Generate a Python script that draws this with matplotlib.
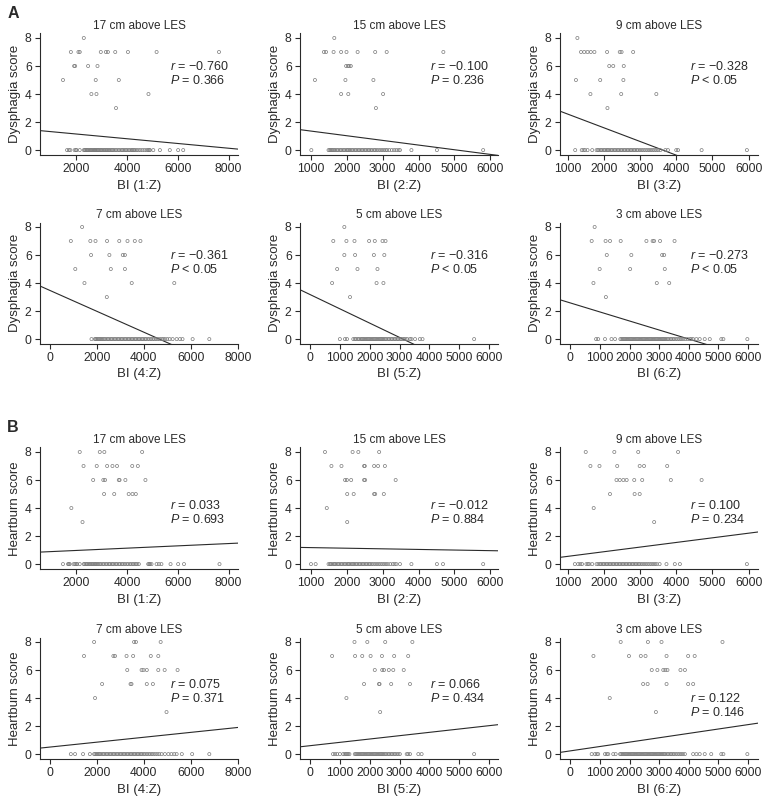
import matplotlib
matplotlib.use("Agg")
import matplotlib.pyplot as plt
import numpy as np

plt.rcParams['font.family'] = ['Liberation Sans', 'DejaVu Sans']
plt.rcParams['mathtext.fontset'] = 'custom'
plt.rcParams['mathtext.it'] = 'Liberation Sans:italic'
plt.rcParams['mathtext.rm'] = 'Liberation Sans'

# ---------------- data ----------------
levels = ["17 cm above LES", "15 cm above LES", "9 cm above LES",
          "7 cm above LES", "5 cm above LES", "3 cm above LES"]
xlabels = ["BI (1:Z)", "BI (2:Z)", "BI (3:Z)", "BI (4:Z)", "BI (5:Z)", "BI (6:Z)"]
ylabels = ["Dysphagia score", "Heartburn score"]
section_labels = ["A", "B"]

# Dysphagia (A) non-zero points
dys17_x = [2290, 1780, 2080, 2130, 2960, 3160, 3240, 3530, 4030, 5160, 7620,
           1910, 1950, 2460, 2830, 1470, 2760, 3670, 2590, 2790, 4840, 3560]
dys17_y = [8, 7, 7, 7, 7, 7, 7, 7, 7, 7, 7, 6, 6, 6, 6, 5, 5, 5, 4, 4, 4, 3]
dys17_zero = [1630, 1700, 1760, 1930, 1990, 2000, 2130, 2290, 2330, 2360, 2400, 2430, 2470,
              2510, 2550, 2580, 2620, 2660, 2700, 2730, 2760, 2800, 2840, 2870, 2910, 2950,
              2990, 3030, 3080, 3120, 3170, 3210, 3260, 3300, 3350, 3400, 3450, 3500, 3560,
              3620, 3680, 3740, 3800, 3850, 3900, 3960, 4010, 4070, 4130, 4180, 4220, 4270,
              4320, 4380, 4450, 4520, 4600, 4680, 4760, 4820, 4870, 4900, 5030, 5290, 5680,
              6010, 6210]

dys15_x = [1650, 1360, 1420, 1630, 1840, 1990, 2300, 2790, 3110, 4690,
           1980, 2030, 2070, 2110, 1110, 1960, 2740, 1840, 2040, 3010, 2810]
dys15_y = [8, 7, 7, 7, 7, 7, 7, 7, 7, 7, 6, 6, 6, 6, 5, 5, 5, 4, 4, 4, 3]
dys15_zero = [1010, 1490, 1520, 1550, 1580, 1610, 1650, 1680, 1720, 1760, 1800, 1840, 1880,
              1920, 1960, 2000, 2030, 2070, 2100, 2140, 2180, 2220, 2260, 2300, 2340, 2380,
              2420, 2460, 2500, 2540, 2580, 2620, 2660, 2700, 2750, 2790, 2830, 2880, 2930,
              2980, 3030, 3080, 3120, 3180, 3250, 3320, 3380, 3440, 3480, 3800, 4510, 5800]

dys9_x = [1270, 1370, 1460, 1550, 1640, 1740, 2090, 2440, 2490, 2810,
          2150, 2260, 2550, 1230, 1900, 2540, 1630, 2480, 3450, 2100]
dys9_y = [8, 7, 7, 7, 7, 7, 7, 7, 7, 7, 6, 6, 6, 5, 5, 5, 4, 4, 4, 3]
dys9_zero = [1210, 1390, 1440, 1480, 1550, 1680, 1800, 1840, 1880, 1920, 1960, 2000, 2040,
             2080, 2110, 2150, 2190, 2230, 2270, 2310, 2350, 2390, 2430, 2470, 2510, 2550,
             2590, 2630, 2670, 2710, 2750, 2790, 2830, 2870, 2910, 2950, 3000, 3050, 3100,
             3150, 3200, 3250, 3300, 3350, 3400, 3450, 3500, 3560, 3700, 3770, 4000, 4050,
             4700, 5950]

dys7_x = [1380, 900, 1730, 1950, 2440, 2960, 3310, 3620, 3860,
          1760, 2540, 3110, 3200, 1090, 2600, 3200, 1480, 3490, 5300, 2430]
dys7_y = [8, 7, 7, 7, 7, 7, 7, 7, 7, 6, 6, 6, 6, 5, 5, 5, 4, 4, 4, 3]
dys7_zero = [1780, 1920, 1960, 2000, 2050, 2100, 2150, 2200, 2250, 2300, 2360, 2420, 2480,
             2540, 2600, 2660, 2720, 2780, 2840, 2900, 2960, 3020, 3080, 3140, 3200, 3260,
             3320, 3380, 3440, 3500, 3560, 3620, 3680, 3740, 3800, 3860, 3920, 3980, 4040,
             4100, 4170, 4240, 4310, 4380, 4450, 4520, 4600, 4680, 4760, 4830, 4900, 5000,
             5100, 5230, 5400, 5540, 5650, 6080, 6790]

dys5_x = [1150, 780, 1220, 1490, 1980, 2170, 2430, 2530,
          1150, 1510, 2140, 2490, 910, 1590, 2260, 740, 2230, 2460, 1340]
dys5_y = [8, 7, 7, 7, 7, 7, 7, 7, 6, 6, 6, 6, 5, 5, 5, 4, 4, 4, 3]
dys5_zero = [1000, 1170, 1240, 1450, 1500, 1550, 1600, 1650, 1700, 1740, 1780, 1820, 1860,
             1900, 1940, 1980, 2020, 2060, 2100, 2140, 2180, 2220, 2260, 2300, 2340, 2380,
             2420, 2460, 2500, 2550, 2600, 2650, 2700, 2750, 2800, 2850, 2900, 2950, 3000,
             3050, 3100, 3150, 3200, 3260, 3350, 3400, 3520, 3680, 3770, 5500]

dys3_x = [820, 720, 1190, 1340, 1700, 2570, 2780, 2830, 3030, 3520,
          1230, 2060, 3100, 3170, 990, 2020, 3190, 780, 2920, 3340, 1200]
dys3_y = [8, 7, 7, 7, 7, 7, 7, 7, 7, 7, 6, 6, 6, 6, 5, 5, 5, 4, 4, 4, 3]
dys3_zero = [870, 940, 1170, 1390, 1510, 1690, 1730, 1770, 1810, 1850, 1890, 1930, 1970,
             2010, 2050, 2090, 2130, 2170, 2210, 2250, 2290, 2330, 2370, 2410, 2450, 2490,
             2530, 2570, 2610, 2650, 2690, 2730, 2770, 2810, 2850, 2890, 2930, 2970, 3010,
             3050, 3090, 3130, 3170, 3210, 3250, 3300, 3350, 3400, 3450, 3500, 3560, 3620,
             3680, 3740, 3800, 3880, 3960, 4040, 4090, 4150, 4260, 4370, 4540, 4710, 5100,
             5170, 5980]

# Heartburn (B) non-zero points
hb17_x = [2130, 2920, 3100, 4590, 2280, 2800, 3210, 3420, 3600, 4200, 4420,
          2660, 3060, 3130, 3670, 3700, 3930, 4720, 3090, 3490, 4060, 4210, 4340,
          1800, 2240]
hb17_y = [8, 8, 8, 8, 7, 7, 7, 7, 7, 7, 7, 6, 6, 6, 6, 6, 6, 6, 5, 5, 5, 5, 5, 4, 3]
hb17_zero = [1470, 1670, 1700, 1735, 1890, 1950, 2000, 2030, 2130, 2290, 2320, 2380, 2420,
             2470, 2520, 2560, 2610, 2650, 2700, 2740, 2780, 2830, 2870, 2920, 2980, 3040,
             3100, 3160, 3220, 3280, 3330, 3390, 3440, 3500, 3560, 3610, 3680, 3730, 3790,
             3850, 3910, 3980, 4040, 4110, 4170, 4230, 4290, 4340, 4400, 4460, 4830, 4870,
             4900, 4960, 5160, 5250, 5350, 5710, 6010, 6240, 7640]

hb15_x = [1390, 2160, 2320, 2900, 1570, 1850, 2480, 2500, 2760, 2870, 3060,
          1950, 2000, 2120, 2480, 2510, 3360, 2010, 2190, 2760, 2790, 3030, 1440, 2010]
hb15_y = [8, 8, 8, 8, 7, 7, 7, 7, 7, 7, 7, 6, 6, 6, 6, 6, 6, 5, 5, 5, 5, 5, 4, 3]
hb15_zero = [1000, 1130, 1490, 1530, 1560, 1600, 1640, 1670, 1710, 1750, 1790, 1830, 1870,
             1910, 1950, 1990, 2030, 2060, 2100, 2140, 2180, 2210, 2250, 2290, 2330, 2370,
             2410, 2450, 2490, 2530, 2570, 2610, 2650, 2690, 2740, 2790, 2840, 2890, 2940,
             2990, 3040, 3090, 3140, 3210, 3280, 3330, 3380, 3480, 3800, 4510, 4680, 5800]

hb9_x = [1500, 2290, 2950, 4050, 1630, 1880, 2370, 2990, 3110, 3750,
         2350, 2440, 2540, 2630, 2840, 3060, 3850, 4700, 2170, 2850, 2990, 1720, 3390]
hb9_y = [8, 8, 8, 8, 7, 7, 7, 7, 7, 7, 6, 6, 6, 6, 6, 6, 6, 6, 5, 5, 5, 4, 3]
hb9_zero = [1200, 1290, 1350, 1400, 1520, 1560, 1600, 1680, 1800, 1850, 1890, 1930, 1970,
            2010, 2050, 2090, 2130, 2170, 2210, 2250, 2290, 2330, 2370, 2410, 2450, 2490,
            2530, 2570, 2610, 2650, 2690, 2730, 2770, 2810, 2850, 2890, 2930, 2970, 3010,
            3060, 3110, 3160, 3210, 3260, 3310, 3360, 3410, 3460, 3540, 3730, 3960, 4100,
            5950]

hb7_x = [1890, 3590, 3670, 4720, 1460, 2710, 2780, 3270, 3550, 4300, 4620,
         3300, 3910, 3990, 4130, 4620, 4890, 5440, 2230, 3440, 3480, 4130, 4390,
         1930, 4970]
hb7_y = [8, 8, 8, 8, 7, 7, 7, 7, 7, 7, 7, 6, 6, 6, 6, 6, 6, 6, 5, 5, 5, 5, 5, 4, 3]
hb7_zero = [900, 1080, 1420, 1710, 1890, 1940, 1990, 2040, 2090, 2140, 2200, 2260, 2320,
            2380, 2440, 2500, 2560, 2620, 2680, 2740, 2800, 2860, 2920, 2980, 3040, 3100,
            3160, 3220, 3280, 3340, 3400, 3460, 3520, 3580, 3640, 3700, 3760, 3820, 3880,
            3940, 4000, 4070, 4140, 4210, 4280, 4350, 4420, 4500, 4580, 4660, 4760, 4900,
            5050, 5180, 5300, 5400, 5620, 6060, 6790]

hb5_x = [1490, 1920, 2520, 3430, 740, 1510, 1750, 2030, 2410, 2820, 3290,
         2170, 2420, 2480, 2640, 2790, 3140, 1810, 2310, 2330, 2720, 3350, 1220, 2350]
hb5_y = [8, 8, 8, 8, 7, 7, 7, 7, 7, 7, 7, 6, 6, 6, 6, 6, 6, 5, 5, 5, 5, 5, 4, 3]
hb5_zero = [770, 840, 910, 1000, 1110, 1160, 1200, 1240, 1280, 1320, 1500, 1540, 1580,
            1620, 1660, 1700, 1740, 1780, 1820, 1860, 1900, 1940, 1980, 2020, 2060, 2100,
            2140, 2180, 2220, 2260, 2300, 2340, 2380, 2420, 2460, 2500, 2550, 2600, 2650,
            2700, 2750, 2800, 2850, 2900, 2960, 3010, 3240, 3290, 3350, 3630, 3740, 5500]

hb3_x = [1700, 2620, 3080, 5140, 780, 1980, 2380, 2540, 3250, 3980, 4200,
         2750, 2940, 3140, 3210, 3280, 3720, 3870, 2460, 2610, 3250, 3980, 4150,
         1330, 2890]
hb3_y = [8, 8, 8, 8, 7, 7, 7, 7, 7, 7, 7, 6, 6, 6, 6, 6, 6, 6, 5, 5, 5, 5, 5, 4, 3]
hb3_zero = [720, 830, 890, 940, 1170, 1230, 1280, 1450, 1530, 1680, 1720, 1760, 1800, 1840,
            1880, 1920, 1960, 2000, 2040, 2080, 2120, 2160, 2200, 2240, 2280, 2320, 2360,
            2400, 2440, 2480, 2520, 2560, 2600, 2640, 2680, 2720, 2760, 2800, 2840, 2880,
            2920, 2960, 3000, 3040, 3080, 3120, 3160, 3200, 3250, 3300, 3350, 3400, 3450,
            3500, 3560, 3620, 3680, 3740, 3800, 3870, 4150, 4260, 4370, 4540, 4760, 5100,
            5170, 5980]

# fitted regression lines (intercept, slope)
dys_intercept = [1.485, 1.69, 3.55, 3.48, 3.18, 2.58]
dys_slope = [-1.69e-4, -3.33e-4, -9.78e-4, -7.46e-4, -1.02e-3, -6.44e-4]
hb_intercept = [0.81, 1.22, 0.22, 0.50, 0.60, 0.23]
hb_slope = [8.2e-5, -4.35e-5, 3.31e-4, 1.75e-4, 2.38e-4, 3.12e-4]

dys_r = ["\u22120.760", "\u22120.100", "\u22120.328", "\u22120.361", "\u22120.316", "\u22120.273"]
dys_p = ["= 0.366", "= 0.236", "< 0.05", "< 0.05", "< 0.05", "< 0.05"]
hb_r = ["0.033", "\u22120.012", "0.100", "0.075", "0.066", "0.122"]
hb_p = ["= 0.693", "= 0.884", "= 0.234", "= 0.371", "= 0.434", "= 0.146"]

dys_sets = [(dys17_x, dys17_y, dys17_zero), (dys15_x, dys15_y, dys15_zero),
            (dys9_x, dys9_y, dys9_zero), (dys7_x, dys7_y, dys7_zero),
            (dys5_x, dys5_y, dys5_zero), (dys3_x, dys3_y, dys3_zero)]
hb_sets = [(hb17_x, hb17_y, hb17_zero), (hb15_x, hb15_y, hb15_zero),
           (hb9_x, hb9_y, hb9_zero), (hb7_x, hb7_y, hb7_zero),
           (hb5_x, hb5_y, hb5_zero), (hb3_x, hb3_y, hb3_zero)]

# ---------------- layout ----------------
W, H = 768, 806
fig = plt.figure(figsize=(W / 100, H / 100), dpi=100)

xlims = [(564, 8369), (694, 6213), (790, 6257), (-411, 8010), (-336, 6300), (-350, 6340)]
xticks = [[2000, 4000, 6000, 8000], [1000, 2000, 3000, 4000, 5000, 6000],
          [1000, 2000, 3000, 4000, 5000, 6000], [0, 2000, 4000, 6000, 8000],
          [0, 1000, 2000, 3000, 4000, 5000, 6000], [0, 1000, 2000, 3000, 4000, 5000, 6000]]
col_px = [(40, 238), (300, 498), (560, 758)]
row_px = [(33.5, 155), (222.5, 344), (447.5, 569), (637.5, 759)]
ylim = (-0.35, 8.32)

# annotation y positions (data units) for r line; P line one unit lower
ann_y = [[6, 6, 6, 6, 6, 6], [4.2, 4.2, 4.2, 5.0, 5.0, 4.0]]

ink = '#2a2a2a'
for sec in range(2):
    sets = dys_sets if sec == 0 else hb_sets
    inter = dys_intercept if sec == 0 else hb_intercept
    slope = dys_slope if sec == 0 else hb_slope
    rs = dys_r if sec == 0 else hb_r
    ps = dys_p if sec == 0 else hb_p
    for i in range(6):
        r_i, c_i = i // 3, i % 3
        row = sec * 2 + r_i
        x0, x1 = col_px[c_i]
        t0, b0 = row_px[row]
        ax = fig.add_axes([x0 / W, 1 - b0 / H, (x1 - x0) / W, (b0 - t0) / H])
        nx, ny, zx = sets[i]
        xs = list(nx) + list(zx)
        ys = list(ny) + [0] * len(zx)
        ax.scatter(xs, ys, s=5, facecolors='none', edgecolors='#7a7a7a', linewidths=0.5, zorder=3)
        xl = np.array(xlims[i], dtype=float)
        ax.plot(xl, inter[i] + slope[i] * xl, color=ink, lw=0.8, zorder=2)
        ax.set_xlim(xlims[i])
        ax.set_ylim(ylim)
        ax.set_xticks(xticks[i])
        ax.set_yticks([0, 2, 4, 6, 8])
        for s in ['top', 'right']:
            ax.spines[s].set_visible(False)
        for s in ['left', 'bottom']:
            ax.spines[s].set_color(ink)
            ax.spines[s].set_linewidth(0.8)
        ax.tick_params(direction='out', length=3.5, width=0.8, color=ink,
                       labelsize=8.7, labelcolor=ink, pad=2.5)
        ax.set_title(levels[i], fontsize=8.5, color=ink, pad=3)
        ax.set_xlabel(xlabels[i], fontsize=9.5, color=ink, labelpad=3)
        ax.set_ylabel(ylabels[sec], fontsize=9.5, color=ink, labelpad=3)
        ax.text(0.656, (ann_y[sec][i] - ylim[0]) / (ylim[1] - ylim[0]),
                r"$r$ = " + rs[i], transform=ax.transAxes, fontsize=9,
                color=ink, va='center', ha='left')
        ax.text(0.656, (ann_y[sec][i] - 1 - ylim[0]) / (ylim[1] - ylim[0]),
                r"$P$ " + ps[i], transform=ax.transAxes, fontsize=9,
                color=ink, va='center', ha='left')

fig.text(13 / W, 1 - 13 / H, section_labels[0], fontsize=11.5, fontweight='bold',
         color=ink, ha='center', va='center')
fig.text(13 / W, 1 - 428 / H, section_labels[1], fontsize=11.5, fontweight='bold',
         color=ink, ha='center', va='center')

fig.savefig("out.png", dpi=100)
